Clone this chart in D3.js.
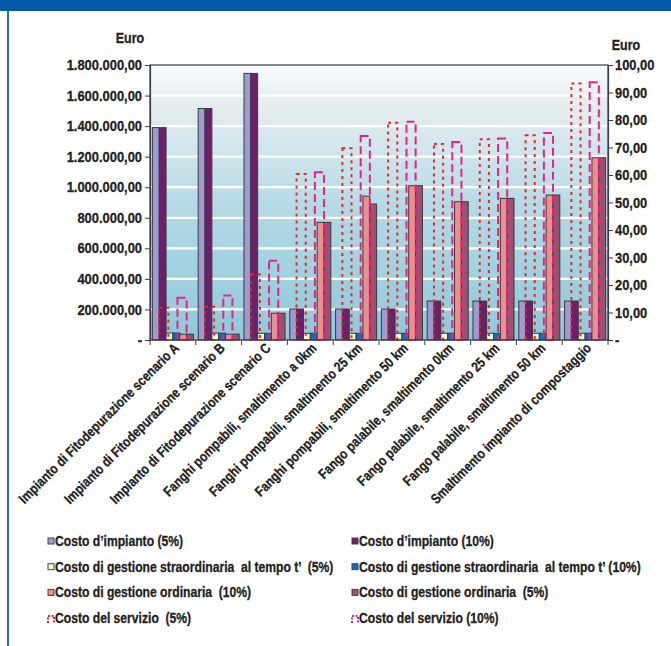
<!DOCTYPE html>
<html>
<head>
<meta charset="utf-8">
<script src="https://cdn.jsdelivr.net/npm/d3@7"></script>
<style>
  body { margin: 0; background: #fff; }
  svg text { font-family: "Liberation Sans", Arial, sans-serif; font-weight: bold; fill: #222; stroke: #222; stroke-width: 0.3; }
</style>
</head>
<body>
<div id="chart"></div>
<script>
// categories along the x axis
const categories = [
    "Impianto di Fitodepurazione scenario A",
    "Impianto di Fitodepurazione scenario B",
    "Impianto di Fitodepurazione scenario C",
    "Fanghi pompabili, smaltimento a 0km",
    "Fanghi pompabili, smaltimento 25 km",
    "Fanghi pompabili, smaltimento 50 km",
    "Fango palabile, smaltimento 0km",
    "Fango palabile, smaltimento 25 km",
    "Fango palabile, smaltimento 50 km",
    "Smaltimento impianto di compostaggio"
];

// left axis series (Euro)
const impianto5 = [1390000, 1515000, 1745000, 203000, 203000, 203000, 255000, 255000, 255000, 255000];
const impianto10 = [1390000, 1515000, 1745000, 203000, 203000, 203000, 255000, 255000, 255000, 255000];
const straord5 = [46000, 45000, 44000, 44000, 44000, 44000, 44000, 44000, 44000, 44000];
const straord10 = [46000, 45000, 44000, 44000, 44000, 44000, 44000, 44000, 44000, 44000];
const ordinaria10 = [38000, 38000, 175000, 770000, 942000, 1010000, 905000, 927000, 949000, 1193000];
const ordinaria5 = [38000, 38000, 175000, 770000, 890000, 1010000, 905000, 927000, 949000, 1193000];

// right axis series (Euro)
const servizio5 = [11.7, 12.1, 23.9, 60.4, 69.7, 79.0, 71.3, 73.0, 74.5, 93.3];
const servizio10 = [15.4, 16.2, 28.8, 61.0, 74.2, 79.4, 72.0, 73.3, 75.3, 93.7];

const leftTicks = [0, 200000, 400000, 600000, 800000, 1000000, 1200000, 1400000, 1600000, 1800000];
const rightTicks = [0, 10, 20, 30, 40, 50, 60, 70, 80, 90, 100];

const barSeries = [
    {name: "Costo d\u2019impianto (5%)", values: impianto5, color: "#9c9cd2"},
    {name: "Costo d\u2019impianto (10%)", values: impianto10, color: "#6e1f6a"},
    {name: "Costo di gestione straordinaria  al tempo t\u2019  (5%)", values: straord5, color: "#fbf8cf"},
    {name: "Costo di gestione straordinaria  al tempo t\u2019 (10%)", values: straord10, color: "#0b6fbe"},
    {name: "Costo di gestione ordinaria  (10%)", values: ordinaria10, color: "#ea8f8c"},
    {name: "Costo di gestione ordinaria  (5%)", values: ordinaria5, color: "#a04f70"}
];
const lineSeries = [
    {name: "Costo del servizio  (5%)", values: servizio5, color: "#e8262a", dash: "3,4"},
    {name: "Costo del servizio (10%)", values: servizio10, color: "#e62284", dash: "8,4"}
];

const W = 671, H = 646;
const plot = {left: 150, right: 608, top: 65, bottom: 340};

// squeeze text horizontally to mimic the condensed font of the original
function condense(sel, k) {
    sel.each(function() {
        const len = this.getComputedTextLength();
        d3.select(this).attr("textLength", len * k).attr("lengthAdjust", "spacingAndGlyphs");
    });
}

const svg = d3.select("#chart").append("svg")
    .attr("width", W).attr("height", H);

// page frame
svg.append("rect").attr("x", 0).attr("y", 0).attr("width", W).attr("height", 11).attr("fill", "#005aa8");
svg.append("rect").attr("x", 7).attr("y", 11).attr("width", 2).attr("height", H - 11).attr("fill", "#1c6fc0");

// background gradient
const defs = svg.append("defs");
const grad = defs.append("linearGradient").attr("id", "bg").attr("x1", 0).attr("y1", 0).attr("x2", 0).attr("y2", 1);
[[0, "#f9fcfd"], [0.1, "#eaf0f2"], [0.16, "#e4eced"], [0.25, "#d8e8ee"], [0.55, "#b0d8e4"], [1, "#8ec9d9"]]
    .forEach(([o, c]) => grad.append("stop").attr("offset", o).attr("stop-color", c));

svg.append("rect")
    .attr("x", plot.left).attr("y", plot.top)
    .attr("width", plot.right - plot.left).attr("height", plot.bottom - plot.top)
    .attr("fill", "url(#bg)");

// scales
const x = d3.scaleBand().domain(categories).range([plot.left, plot.right]).padding(0);
const xBars = d3.scaleBand().domain(d3.range(barSeries.length)).range([0, x.bandwidth()]).paddingInner(0).paddingOuter(0.35);
const xLines = d3.scaleBand().domain(d3.range(lineSeries.length)).range([0, x.bandwidth()]).paddingInner(0.5).paddingOuter(0.5);
const yL = d3.scaleLinear().domain([0, 1800000]).range([plot.bottom, plot.top]);
const yR = d3.scaleLinear().domain([0, 100]).range([plot.bottom, plot.top]);

// gridlines
svg.append("g").selectAll("line")
    .data(leftTicks.filter(d => d > 0 && d < 1800000))
    .join("line")
    .attr("x1", plot.left).attr("x2", plot.right)
    .attr("y1", d => yL(d)).attr("y2", d => yL(d))
    .attr("stroke", "#fff").attr("stroke-width", 2.2);

// bars
barSeries.forEach((s, si) => {
    svg.append("g").selectAll("rect")
        .data(s.values)
        .join("rect")
        .attr("x", (d, i) => x(categories[i]) + xBars(si))
        .attr("y", d => yL(d))
        .attr("width", xBars.bandwidth())
        .attr("height", d => plot.bottom - yL(d))
        .attr("fill", s.color)
        .attr("stroke", "#3a3a3a")
        .attr("stroke-width", 1);
});

// service cost (secondary axis), dashed outlines
lineSeries.forEach((s, si) => {
    svg.append("g").selectAll("rect")
        .data(s.values)
        .join("rect")
        .attr("x", (d, i) => x(categories[i]) + xLines(si))
        .attr("y", d => yR(d))
        .attr("width", xLines.bandwidth())
        .attr("height", d => plot.bottom - yR(d))
        .attr("fill", "none")
        .attr("stroke", s.color)
        .attr("stroke-width", 2)
        .attr("stroke-dasharray", s.dash);
});

// plot frame
svg.append("rect")
    .attr("x", plot.left).attr("y", plot.top)
    .attr("width", plot.right - plot.left).attr("height", plot.bottom - plot.top)
    .attr("fill", "none").attr("stroke", "#3b3b4b").attr("stroke-width", 1.2);

// axes
const fmtL = d => d === 0 ? "-" : d3.format(",.2f")(d).replace(/,/g, "#").replace(".", ",").replace(/#/g, ".");
const fmtR = d => d === 0 ? "-" : d3.format(".2f")(d).replace(".", ",");

const axL = svg.append("g")
    .attr("transform", `translate(${plot.left},0)`)
    .call(d3.axisLeft(yL).tickValues(leftTicks).tickFormat(fmtL).tickSize(5).tickPadding(3));
const axR = svg.append("g")
    .attr("transform", `translate(${plot.right},0)`)
    .call(d3.axisRight(yR).tickValues(rightTicks).tickFormat(fmtR).tickSize(5).tickPadding(2));
[axL, axR].forEach(a => {
    a.select(".domain").attr("stroke", "#3b3b4b").attr("stroke-width", 1.2);
    a.selectAll(".tick line").attr("stroke", "#3b3b4b");
    a.selectAll(".tick text").attr("font-size", 14.5).attr("fill", "#222")
        .attr("font-family", null).call(condense, 0.89);
});

// category separator ticks on x axis
svg.append("g").selectAll("line")
    .data(d3.range(categories.length + 1))
    .join("line")
    .attr("x1", i => plot.left + i * x.step()).attr("x2", i => plot.left + i * x.step())
    .attr("y1", plot.bottom).attr("y2", plot.bottom + 5)
    .attr("stroke", "#3b3b4b");

// x labels
svg.append("g").selectAll("text")
    .data(categories)
    .join("text")
    .attr("transform", d => `translate(${x(d) + x.bandwidth() / 2 + 7},${plot.bottom + 9}) rotate(-45)`)
    .attr("text-anchor", "end")
    .attr("font-size", 14)
    .text(d => d)
    .call(condense, 0.84);

// axis titles
svg.append("text").attr("x", 130).attr("y", 43).attr("text-anchor", "middle").attr("font-size", 14.5).text("Euro").call(condense, 0.86);
svg.append("text").attr("x", 626).attr("y", 50).attr("text-anchor", "middle").attr("font-size", 14.5).text("Euro").call(condense, 0.86);

// legend
const legendItems = [...barSeries.map(s => ({...s, type: "bar"})), ...lineSeries.map(s => ({...s, type: "line"}))];
const legend = svg.append("g");
legendItems.forEach((s, i) => {
    const col = i % 2, row = Math.floor(i / 2);
    const lx = col === 0 ? 48 : 352;
    const ly = 546 + row * 25.7;
    if (s.type === "bar") {
        legend.append("rect").attr("x", lx).attr("y", ly - 8).attr("width", 6).attr("height", 6)
            .attr("fill", s.color).attr("stroke", "#444").attr("stroke-width", 1);
    } else {
        legend.append("path")
            .attr("d", `M${lx},${ly} V${ly - 7} H${lx + 6} V${ly}`)
            .attr("fill", "none").attr("stroke", s.color).attr("stroke-width", 2)
            .attr("stroke-dasharray", "2,1.5");
    }
    legend.append("text")
        .attr("transform", `translate(${lx + 7},${ly}) scale(0.81,1)`)
        .attr("font-size", 15).style("white-space", "pre").text(s.name);
});
</script>
</body>
</html>
